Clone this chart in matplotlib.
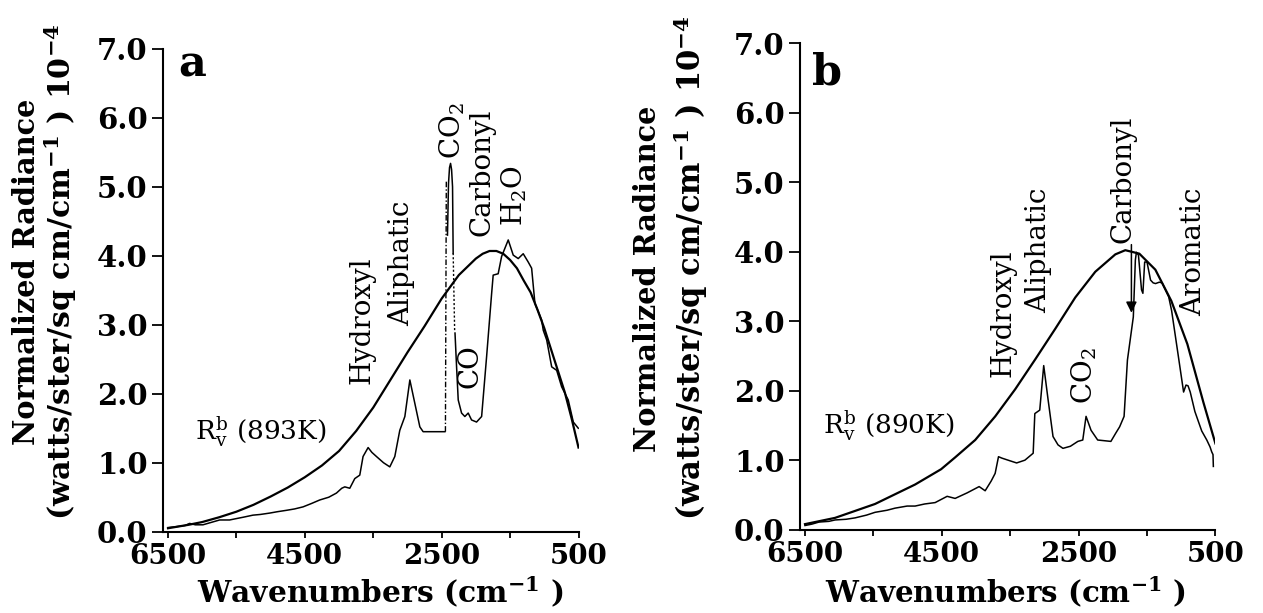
import matplotlib
matplotlib.use('Agg')
import matplotlib.pyplot as plt

# ---------------- data ----------------
# Panel a : blackbody curve R_v^b (893 K)
bb_a_wn = [6500, 6200, 6000, 5750, 5500, 5250, 5000, 4750, 4500, 4250, 4000, 3750,
           3500, 3250, 3000, 2750, 2500, 2250, 2000, 1900, 1800, 1700, 1600, 1500,
           1400, 1300, 1200, 1100, 1000, 900, 800, 700, 600, 500]
bb_a_rad = [0.05, 0.10, 0.14, 0.21, 0.29, 0.39, 0.51, 0.64, 0.79, 0.96, 1.17, 1.46,
            1.80, 2.20, 2.60, 2.98, 3.38, 3.72, 3.96, 4.03, 4.07, 4.07, 4.03, 3.94,
            3.82, 3.64, 3.47, 3.22, 2.95, 2.64, 2.33, 2.02, 1.64, 1.22]

# Panel a : measured spectrum, split where the original line style changes
spec_a1_wn = [6500, 6400, 6250, 6184, 6100, 5989, 5850, 5745, 5600, 5501, 5400, 5258,
              5150, 5013, 4900, 4769, 4650, 4526, 4400, 4282, 4150, 4038, 3960, 3916,
              3843, 3770, 3697, 3649, 3575, 3520, 3453, 3350, 3258, 3185, 3112, 3038,
              2965, 2892, 2819, 2771, 2600, 2453]
spec_a1_rad = [0.06, 0.07, 0.09, 0.12, 0.10, 0.10, 0.14, 0.17, 0.17, 0.19, 0.21, 0.24,
               0.25, 0.27, 0.29, 0.31, 0.33, 0.36, 0.41, 0.46, 0.50, 0.56, 0.63, 0.65,
               0.63, 0.77, 0.82, 1.09, 1.22, 1.15, 1.09, 1.00, 0.94, 1.09, 1.47, 1.67,
               2.20, 1.86, 1.52, 1.45, 1.45, 1.45]
spec_a2_wn = [2445, 2432]            # dash-dot part (CO2 band edge)
spec_a2_rad = [1.45, 5.10]
spec_a3_wn = [2415, 2400, 2385, 2370, 2355, 2341, 2332]   # CO2 spike
spec_a3_rad = [4.30, 5.05, 5.28, 5.34, 5.25, 5.00, 4.04]
spec_a4_wn = [2332, 2310]            # dotted part
spec_a4_rad = [4.04, 2.90]
spec_a5_wn = [2305, 2282, 2258, 2209, 2161, 2112, 2063, 1990, 1916, 1843, 1770, 1747,
              1674, 1624, 1527, 1454, 1381, 1308, 1235, 1185, 1137, 1039, 1015, 965,
              892, 819, 746, 650, 576, 503]
spec_a5_rad = [2.88, 2.39, 1.91, 1.72, 1.67, 1.72, 1.62, 1.59, 1.67, 2.54, 3.45, 3.72,
               3.74, 3.99, 4.23, 4.01, 3.96, 4.03, 3.91, 3.82, 3.31, 3.07, 2.92, 2.78,
               2.39, 2.34, 2.10, 1.91, 1.59, 1.50]

# Panel b : blackbody curve R_v^b (890 K)
bb_b_wn = [6500, 6061, 5476, 4890, 4510, 4305, 4012, 3719, 3427, 3134, 2841, 2549,
           2256, 1963, 1817, 1612, 1378, 1144, 910, 675, 500]
bb_b_rad = [0.08, 0.17, 0.37, 0.65, 0.87, 1.04, 1.29, 1.63, 2.02, 2.45, 2.89, 3.34,
            3.71, 3.96, 4.02, 3.97, 3.74, 3.29, 2.67, 1.83, 1.24]

# Panel b : measured spectrum
spec_b_wn = [6500, 6400, 6295, 6150, 6061, 5900, 5768, 5600, 5476, 5300, 5183, 5007,
             4890, 4750, 4597, 4422, 4305, 4129, 3954, 3866, 3778, 3720, 3671, 3623,
             3500, 3406, 3285, 3164, 3140, 3068, 3010, 2946, 2874, 2801, 2729, 2620,
             2511, 2439, 2391, 2318, 2221, 2028, 1956, 1900, 1835, 1786, 1700, 1670,
             1655, 1625, 1580, 1560, 1534, 1500, 1448, 1410, 1375, 1320, 1279, 1231,
             1183, 1140, 1050, 965, 930, 900, 868, 800, 700, 626, 578, 554, 535, 530]
spec_b_rad = [0.06, 0.08, 0.11, 0.12, 0.14, 0.15, 0.17, 0.21, 0.25, 0.28, 0.31, 0.34,
              0.34, 0.37, 0.39, 0.48, 0.45, 0.53, 0.62, 0.56, 0.70, 0.81, 1.05, 1.03,
              0.99, 0.96, 1.00, 1.10, 1.67, 1.72, 2.36, 1.87, 1.34, 1.22, 1.17, 1.20,
              1.27, 1.29, 1.63, 1.43, 1.29, 1.27, 1.39, 1.48, 1.63, 2.44, 3.06, 3.88,
              3.99, 3.95, 3.45, 3.40, 3.85, 3.85, 3.59, 3.55, 3.54, 3.56, 3.55, 3.45,
              3.35, 3.15, 2.55, 1.98, 2.08, 2.07, 1.98, 1.70, 1.42, 1.29, 1.19, 1.12,
              1.08, 0.91]

x_major = [6500, 4500, 2500, 500]
x_major_labels = ['6500', '4500', '2500', '500']
x_minor = [5500, 3500, 1500]
y_ticks = [0, 1, 2, 3, 4, 5, 6, 7]
y_tick_labels = ['0.0', '1.0', '2.0', '3.0', '4.0', '5.0', '6.0', '7.0']

# ---------------- styling ----------------
plt.rcParams['font.family'] = ['DejaVu Serif']
plt.rcParams['mathtext.fontset'] = 'dejavuserif'
plt.rcParams['mathtext.default'] = 'regular'

W, H = 1263, 613
fig = plt.figure(figsize=(W / 100, H / 100), dpi=100)
fig.patch.set_facecolor('white')


def fx(px):
    return px / W


def fy(py):
    return 1 - py / H


ax_a = fig.add_axes([fx(163), fy(531.7), 415.5 / W, (531.7 - 48.9) / H])
ax_b = fig.add_axes([fx(800), fy(529.7), 415.4 / W, (529.7 - 43.0) / H])

renderer = fig.canvas.get_renderer()


def fit(t, target, vertical=False):
    bb = t.get_window_extent(renderer)
    L = bb.height if vertical else bb.width
    t.set_fontsize(t.get_fontsize() * target / L)


def style_axes(ax):
    ax.set_xlim(6573, 500)
    ax.set_ylim(0, 7)
    for s in ('top', 'right'):
        ax.spines[s].set_visible(False)
    for s in ('left', 'bottom'):
        ax.spines[s].set_linewidth(1.5)
    ax.set_xticks(x_major)
    ax.set_xticklabels(x_major_labels)
    ax.set_xticks(x_minor, minor=True)
    ax.set_yticks(y_ticks)
    ax.set_yticklabels(y_tick_labels)
    ax.tick_params(axis='y', direction='out', length=8, width=1.3, pad=3, labelsize=21)
    ax.tick_params(axis='x', which='both', direction='out', length=4.5, width=1.3,
                   pad=3.5, labelsize=20)
    for lab in ax.get_xticklabels() + ax.get_yticklabels():
        lab.set_fontweight('bold')
    ax.set_facecolor('white')


style_axes(ax_a)
style_axes(ax_b)

# ---------------- panel a ----------------
ax_a.plot(bb_a_wn, bb_a_rad, color='black', lw=1.6)
ax_a.plot(spec_a1_wn, spec_a1_rad, color='black', lw=1.1)
ax_a.plot(spec_a2_wn, spec_a2_rad, color='black', lw=1.0, ls=(0, (4, 1.5, 1, 1.5)))
ax_a.plot(spec_a3_wn, spec_a3_rad, color='black', lw=1.1)
ax_a.plot(spec_a4_wn, spec_a4_rad, color='black', lw=1.0, ls=(0, (1.5, 1.5)))
ax_a.plot(spec_a5_wn, spec_a5_rad, color='black', lw=1.1)

ann_fs = 20
ax_a.text(3668, 3.07, 'Hydroxyl', rotation=90, ha='center', va='center', fontsize=ann_fs)
ax_a.text(3082, 3.89, 'Aliphatic', rotation=90, ha='center', va='center', fontsize=ann_fs)
ax_a.text(2351, 5.82, r'CO$_2$', rotation=90, ha='center', va='center', fontsize=ann_fs)
ax_a.text(2088, 2.40, 'CO', rotation=90, ha='center', va='center', fontsize=ann_fs)
ax_a.text(1905, 5.21, 'Carbonyl', rotation=90, ha='center', va='center', fontsize=ann_fs)
ax_a.text(1440, 4.87, r'H$_2$O', rotation=90, ha='center', va='center', fontsize=ann_fs)
ax_a.text(6111, 1.33, r'$R_{v}^{b}$ (893K)', ha='left', va='baseline', fontsize=19)
ax_a.text(6345, 6.60, 'a', ha='left', va='baseline', fontsize=31, fontweight='bold')

# ---------------- panel b ----------------
ax_b.plot(bb_b_wn, bb_b_rad, color='black', lw=1.6)
ax_b.plot(spec_b_wn, spec_b_rad, color='black', lw=1.1)
ax_b.annotate('', xy=(1728, 3.12), xytext=(1728, 4.10),
              arrowprops=dict(arrowstyle='-|>', color='black', lw=1.1,
                              mutation_scale=16, shrinkA=0, shrinkB=0))

ax_b.text(3609, 3.12, 'Hydroxyl', rotation=90, ha='center', va='center', fontsize=ann_fs)
ax_b.text(3087, 4.02, 'Aliphatic', rotation=90, ha='center', va='center', fontsize=ann_fs)
ax_b.text(2420, 2.22, r'CO$_2$', rotation=90, ha='center', va='center', fontsize=ann_fs)
ax_b.text(1854, 5.04, 'Carbonyl', rotation=90, ha='center', va='center', fontsize=ann_fs)
ax_b.text(825, 3.99, 'Aromatic', rotation=90, ha='center', va='center', fontsize=ann_fs)
ax_b.text(6236, 1.38, r'$R_{v}^{b}$ (890K)', ha='left', va='baseline', fontsize=19)
ax_b.text(6404, 6.41, 'b', ha='left', va='baseline', fontsize=31, fontweight='bold')

# ---------------- axis titles ----------------
ylab1 = 'Normalized Radiance'
ylab2 = r'(watts/ster/sq cm/cm$^{-1}$ ) 10$^{-4}$'
xlab = r'Wavenumbers (cm$^{-1}$ )'

for (x1, y1, x2, y2, L1, L2) in [(27, 272, 61, 272, 348, 497),
                                 (648, 279, 691, 268, 348, 504)]:
    t1 = fig.text(fx(x1), fy(y1), ylab1, rotation=90, ha='center', va='center',
                  fontweight='bold', fontsize=20)
    fit(t1, L1, vertical=True)
    t2 = fig.text(fx(x2), fy(y2), ylab2, rotation=90, ha='center', va='center',
                  fontweight='bold', fontsize=20)
    fit(t2, L2, vertical=True)

for (xc, yc, L) in [(380, 592, 366), (1005, 592, 360)]:
    t = fig.text(fx(xc), fy(yc), xlab, ha='center', va='center',
                 fontweight='bold', fontsize=22)
    fit(t, L)

fig.savefig('out.png', dpi=100, facecolor='white')
